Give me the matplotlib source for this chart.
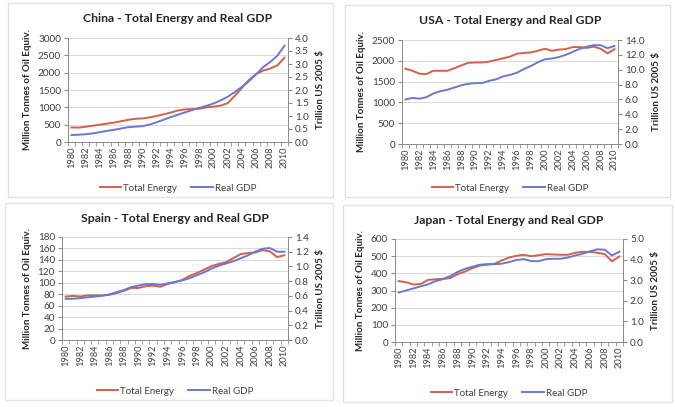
import numpy as np
import matplotlib.pyplot as plt
from matplotlib.patches import Rectangle

plt.rcParams['font.family'] = ['Lato', 'DejaVu Sans']

years = list(range(1980, 2011))

china_energy = [420, 415, 440, 470, 500, 530, 560, 600, 640, 670, 680, 710, 750, 800, 850, 910,
                940, 950, 960, 1000, 1020, 1050, 1120, 1330, 1560, 1790, 1960, 2060, 2120, 2210, 2430]
china_gdp = [0.27, 0.28, 0.30, 0.33, 0.38, 0.43, 0.47, 0.52, 0.57, 0.59, 0.61, 0.67, 0.76, 0.86, 0.96, 1.05,
             1.14, 1.23, 1.31, 1.39, 1.48, 1.60, 1.74, 1.92, 2.12, 2.34, 2.60, 2.88, 3.08, 3.32, 3.70]

usa_energy = [1810, 1760, 1690, 1680, 1760, 1760, 1760, 1820, 1890, 1950, 1960, 1960, 1980, 2020, 2060, 2100,
              2170, 2190, 2200, 2240, 2290, 2240, 2270, 2280, 2330, 2330, 2310, 2340, 2290, 2180, 2280]
usa_gdp = [6.0, 6.2, 6.1, 6.3, 6.8, 7.1, 7.3, 7.6, 7.9, 8.1, 8.2, 8.2, 8.5, 8.7, 9.1, 9.3,
           9.6, 10.1, 10.5, 11.0, 11.4, 11.5, 11.7, 12.0, 12.4, 12.8, 13.1, 13.3, 13.3, 12.9, 13.2]

spain_energy = [76, 77, 76, 78, 78, 78, 79, 82, 86, 91, 91, 94, 95, 93, 98, 101,
                105, 112, 117, 123, 129, 133, 136, 143, 150, 152, 153, 157, 155, 145, 148]
spain_gdp = [0.56, 0.56, 0.57, 0.58, 0.59, 0.60, 0.62, 0.65, 0.68, 0.72, 0.74, 0.76, 0.76, 0.75, 0.77, 0.79,
             0.81, 0.84, 0.88, 0.92, 0.97, 1.01, 1.04, 1.07, 1.11, 1.15, 1.20, 1.24, 1.25, 1.20, 1.20]

japan_energy = [355, 348, 335, 338, 362, 365, 368, 372, 395, 410, 430, 445, 450, 455, 475, 492,
                502, 508, 500, 505, 512, 510, 508, 508, 520, 525, 525, 520, 512, 470, 498]
japan_gdp = [2.4, 2.5, 2.6, 2.7, 2.8, 2.95, 3.05, 3.2, 3.4, 3.55, 3.65, 3.75, 3.78, 3.78, 3.8, 3.88,
             3.98, 4.02, 3.93, 3.92, 4.02, 4.04, 4.04, 4.1, 4.2, 4.28, 4.4, 4.5, 4.48, 4.2, 4.38]

W, H = 675, 407
fig = plt.figure(figsize=(W / 100, H / 100), dpi=100)

red = '#d4604a'
blue = '#6a78d2'
grid_c = '#d9d9d9'
axis_c = '#8c8c8c'


def px_rect(l, t, r, b):
    return [l / W, 1 - b / H, (r - l) / W, (b - t) / H]


def panel(box, axbox, title, energy, gdp, emax, estep, gmax, gstep):
    bl, bt, br, bb = box
    fig.patches.append(Rectangle((bl / W, 1 - bb / H), (br - bl) / W, (bb - bt) / H,
                                 transform=fig.transFigure, fill=False, edgecolor='#e3e3e3', lw=1))
    ax = fig.add_axes(px_rect(*axbox))
    ax2 = ax.twinx()
    ax.plot(years, energy, color=red, lw=1.4, label='Total Energy')
    ax2.plot(years, gdp, color=blue, lw=1.4, label='Real GDP')
    ax.set_xlim(1979.5, 2010.5)
    ax.set_ylim(0, emax)
    ax2.set_ylim(0, gmax)
    ax.set_yticks(np.arange(0, emax + estep / 2, estep))
    gt = np.arange(0, gmax + gstep / 2, gstep)
    ax2.set_yticks(gt)
    ax2.set_yticklabels(['%.1f' % v for v in gt])
    ax.set_xticks(years[::2])
    ax.set_xticklabels([str(y) for y in years[::2]], rotation=90)
    ax.set_xticks(np.arange(1979.5, 2011, 1), minor=True)
    ax.tick_params(axis='x', which='major', length=0, labelsize=6.7, colors='#404040', pad=3)
    ax.tick_params(axis='x', which='minor', length=3, color=axis_c)
    ax.tick_params(axis='y', length=3, color=axis_c, labelsize=7.2, labelcolor='#404040', pad=2)
    ax2.tick_params(axis='y', length=3, color=axis_c, labelsize=7.2, labelcolor='#404040', pad=2)
    ax.grid(axis='y', color=grid_c, lw=0.7)
    ax.set_axisbelow(True)
    for a in (ax, ax2):
        a.spines['top'].set_visible(False)
        for s in ('left', 'right', 'bottom'):
            a.spines[s].set_color(axis_c)
            a.spines[s].set_linewidth(0.7)
    ax2.set_zorder(ax.get_zorder() + 1)
    ax.set_ylabel('Million Tonnes of Oil Equiv.', fontsize=7, fontweight='bold', color='#262626', labelpad=4)
    ax2.set_ylabel('Trillion US 2005 $', fontsize=7, fontweight='bold', color='#262626', labelpad=5)
    cx = (axbox[0] + axbox[2]) / 2
    fig.text(cx / W, 1 - (bt + 16) / H, title, ha='center', va='center',
             fontsize=8.8, fontweight='bold', color='#262626')
    h1, l1 = ax.get_legend_handles_labels()
    h2, l2 = ax2.get_legend_handles_labels()
    fig.legend(h1 + h2, l1 + l2, loc='center', bbox_to_anchor=(cx / W, 1 - (bb - 9) / H),
               ncol=2, frameon=False, fontsize=7, handlelength=2.2, handletextpad=0.2,
               columnspacing=1.5, labelcolor='#404040')


panel((8, 3, 333, 197), (68, 38, 288, 142), 'China - Total Energy and Real GDP',
      china_energy, china_gdp, 3000, 500, 4.0, 0.5)
panel((345, 5, 670, 197), (402, 40, 618, 144), 'USA - Total Energy and Real GDP',
      usa_energy, usa_gdp, 2500, 500, 14.0, 2.0)
panel((5, 203, 333, 400), (62, 237, 288, 340), 'Spain - Total Energy and Real GDP',
      spain_energy, spain_gdp, 180, 20, 1.4, 0.2)
panel((343, 205, 672, 402), (395, 239, 623, 342), 'Japan - Total Energy and Real GDP',
      japan_energy, japan_gdp, 600, 100, 5.0, 1.0)

fig.savefig('out.png', dpi=100)
